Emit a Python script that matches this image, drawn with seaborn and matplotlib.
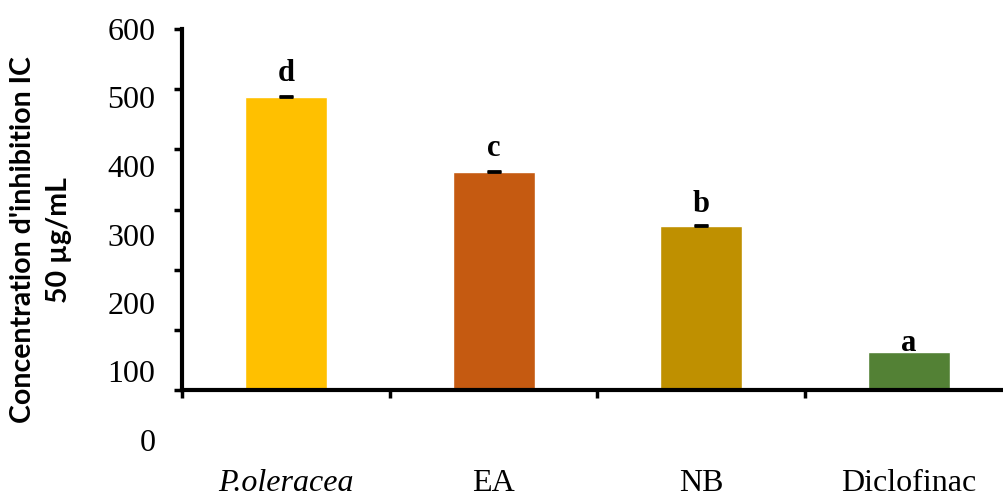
import matplotlib
matplotlib.use("Agg")
import matplotlib.pyplot as plt
import seaborn as sns
import pandas as pd

# IC50 of the extracts and the reference drug
categories = ["P.oleracea", "EA", "NB", "Diclofinac"]
ic50 = [487, 363, 273, 63]
ic50_err = [1.5, 1.5, 1.5, 0]
letters = ["d", "c", "b", "a"]
colors = ["#FFC000", "#C55A11", "#BF9000", "#538135"]
y_ticks = [0, 100, 200, 300, 400, 500, 600]

# letter offsets above each bar (points)
letter_offsets = [10.8, 10.8, 9.4, 0.7]

sns.set_style("white")
plt.rcParams["font.family"] = ["Liberation Serif", "DejaVu Serif"]
plt.rcParams["text.color"] = "black"
plt.rcParams["xtick.color"] = "black"
plt.rcParams["ytick.color"] = "black"

W, H = 1004, 499
fig = plt.figure(figsize=(W / 100, H / 100), dpi=100)

ax = fig.add_axes([182 / W, (H - 390) / H, (1013 - 182) / W, (390 - 29) / H])
df = pd.DataFrame({"sample": categories, "ic50": ic50})
sns.barplot(data=df, x="sample", y="ic50", hue="sample", palette=colors,
            width=0.395, saturation=1, errorbar=None, legend=False, ax=ax)

# upper error caps
for i, (v, e) in enumerate(zip(ic50, ic50_err)):
    if e > 0:
        ax.errorbar(i, v, yerr=[[0], [e]], fmt="none", ecolor="black",
                    elinewidth=1, capsize=5, capthick=2)

# significance letters
for i, (v, e, t, off) in enumerate(zip(ic50, ic50_err, letters, letter_offsets)):
    ax.annotate(t, xy=(i, v + e), xytext=(0, off), textcoords="offset points",
                ha="center", va="baseline", fontsize=22, fontweight="bold",
                family="Liberation Serif", color="black")

ax.set_xlim(-0.5, 3.5)
ax.set_ylim(0, 600)
ax.set_xlabel("")
ax.set_ylabel("")

for side in ["top", "right"]:
    ax.spines[side].set_visible(False)
for side in ["left", "bottom"]:
    ax.spines[side].set_linewidth(3)
    ax.spines[side].set_color("black")

ax.set_yticks(y_ticks, labels=[""] * len(y_ticks))
ax.tick_params(axis="y", which="major", direction="out", length=6, width=2.5,
               color="black", left=True)

# category boundaries as major ticks, names on minor ticks
ax.set_xticks([-0.5, 0.5, 1.5, 2.5, 3.5], labels=[""] * 5)
ax.set_xticks(range(len(categories)), labels=categories, minor=True)
ax.tick_params(axis="x", which="major", direction="out", length=6, width=2.5,
               color="black", bottom=True)
ax.tick_params(axis="x", which="minor", length=0, pad=57, labelsize=23,
               labelcolor="black")
minor_labels = ax.get_xticklabels(minor=True)
minor_labels[0].set_style("italic")

# value labels of the y scale
lab = fig.add_axes([182 / W, (H - 440) / H, 0.001, (440 - 29) / H])
lab.set_ylim(0, 600)
lab.set_yticks(y_ticks, labels=[str(t) for t in y_ticks])
lab.set_xticks([])
lab.tick_params(axis="y", length=0, pad=19, labelsize=23, labelcolor="black")
for s in lab.spines.values():
    s.set_visible(False)
lab.patch.set_visible(False)

fig.text(41 / W, (H - 240) / H, "Concentration d'inhibition IC\n50 µg/mL",
         rotation=90, ha="center", va="center", multialignment="center",
         fontsize=20.5, fontweight="bold", family=["Lato", "DejaVu Sans"],
         linespacing=1.45, color="black")

fig.savefig("out.png", dpi=100)
